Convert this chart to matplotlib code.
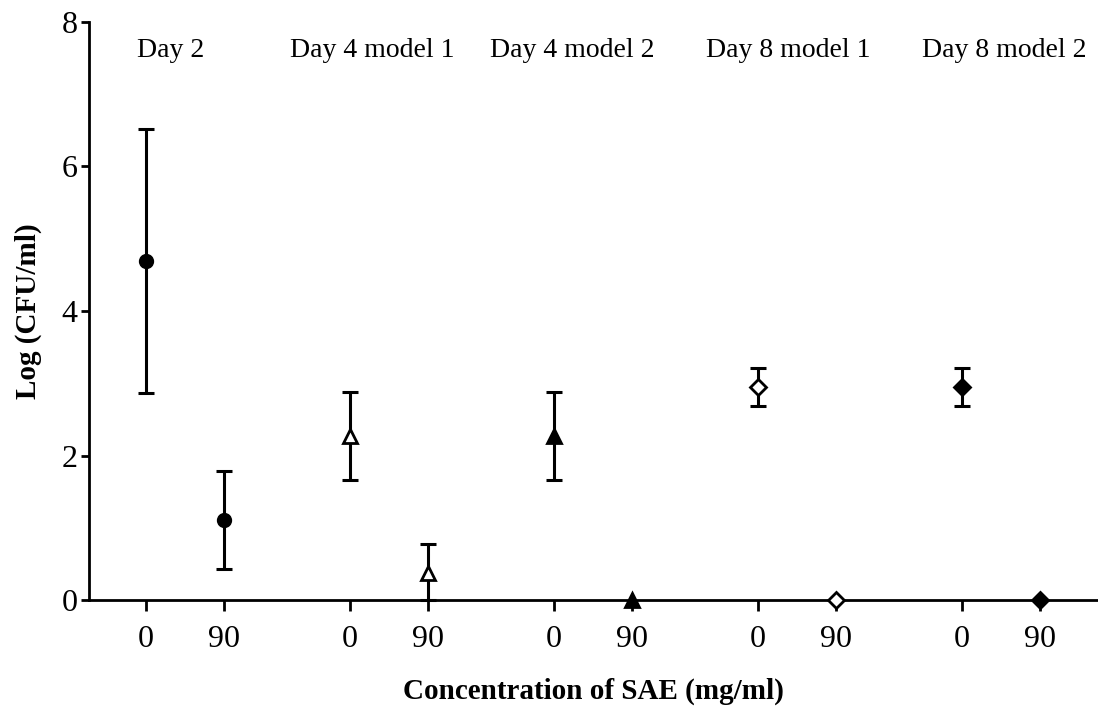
import matplotlib.pyplot as plt
import numpy as np

plt.rcParams['font.family'] = ['Liberation Serif', 'DejaVu Serif']

groups = ["Day 2", "Day 4 model 1", "Day 4 model 2", "Day 8 model 1", "Day 8 model 2"]
conc_labels = ["0", "90"]
means = [[4.69, 1.11], [2.27, 0.37], [2.27, 0.0], [2.95, 0.0], [2.95, 0.0]]
errs = [[1.83, 0.68], [0.61, 0.41], [0.61, 0.0], [0.26, 0.0], [0.26, 0.0]]
markers = ["o", "^", "^", "D", "D"]
filled = [True, False, True, False, True]

group_gap = 2.615
fig = plt.figure(figsize=(10.98, 7.06), dpi=100)
ax = fig.add_axes([0.081, 0.150, 0.919, 0.819])

xticks = []
xlabels = []
for g in range(len(groups)):
    for c in range(2):
        x = g * group_gap + c
        xticks.append(x)
        xlabels.append(conc_labels[c])
        m = means[g][c]
        e = errs[g][c]
        fc = "black" if filled[g] else "white"
        ms = 9 if markers[g] == "o" else (10 if markers[g] == "^" else 8)
        if e > 0:
            lo = min(e, m)  # bars do not go below the axis
            ax.errorbar(x, m, yerr=[[lo], [e]], fmt="none", ecolor="black", elinewidth=2.2,
                        capsize=6, capthick=2.2, clip_on=False, zorder=2)
        ax.plot(x, m, marker=markers[g], ms=ms, mfc=fc, mec="black", mew=2,
                linestyle="none", clip_on=False, zorder=3)

label_x = [0.32, 2.9, 5.46, 8.23, 11.0]
for g, name in enumerate(groups):
    ax.text(label_x[g], 7.6, name, ha="center", va="center", fontsize=20)

ax.set_xlim(-0.73, 12.2)
ax.set_ylim(0, 8)
ax.set_xticks(xticks)
ax.set_xticklabels(xlabels)
ax.set_yticks([0, 2, 4, 6, 8])
for s in ["top", "right"]:
    ax.spines[s].set_visible(False)
for s in ["left", "bottom"]:
    ax.spines[s].set_linewidth(2)
ax.tick_params(axis="y", length=6, width=2, labelsize=23, pad=2)
ax.tick_params(axis="x", length=8, width=2, labelsize=23, pad=10)

ax.set_xlabel("Concentration of SAE (mg/ml)", fontsize=21, fontweight="bold", labelpad=17)
ax.set_ylabel("Log (CFU/ml)", fontsize=21, fontweight="bold", labelpad=14)

fig.savefig("out.png", dpi=100)
